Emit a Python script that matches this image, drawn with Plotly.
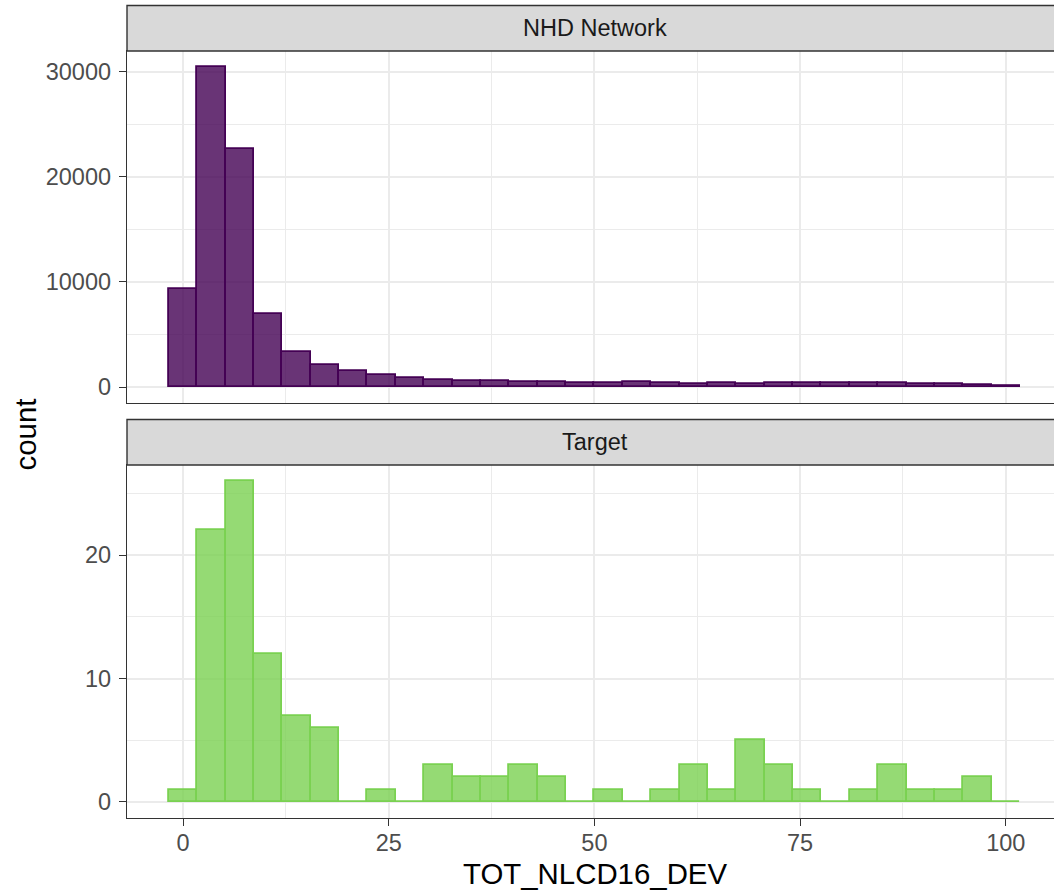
import plotly.graph_objects as go

# ---- data ----
bin_centers = [0, 3.45, 6.9, 10.34, 13.79, 17.24, 20.69, 24.14, 27.59, 31.03,
               34.48, 37.93, 41.38, 44.83, 48.28, 51.72, 55.17, 58.62, 62.07, 65.52,
               68.97, 72.41, 75.86, 79.31, 82.76, 86.21, 89.66, 93.1, 96.55, 100]
nhd_counts = [9300, 30450, 22650, 6950, 3350, 2080, 1500, 1150, 850, 700,
              600, 540, 500, 500, 420, 380, 480, 380, 290, 380,
              290, 370, 370, 370, 370, 370, 320, 300, 190, 100]
target_counts = [1, 22, 26, 12, 7, 6, 0, 1, 0, 3,
                 2, 2, 3, 2, 0, 1, 0, 1, 3, 1,
                 5, 3, 1, 0, 1, 3, 1, 1, 2, 0]
panel_labels = ["NHD Network", "Target"]
x_ticks = [0, 25, 50, 75, 100]
y_ticks_top = [0, 10000, 20000, 30000]
y_ticks_bottom = [0, 10, 20]
x_title = "TOT_NLCD16_DEV"
y_title = "count"

# ---- styling ----
W, H = 1054, 891
BINW = 3.448
FONT = "Liberation Sans, Arial, sans-serif"
TICK_FONT = dict(family=FONT, size=23.5, color="#4D4D4D")
GRID = "#EBEBEB"
BORDER = "#333333"

left_px = 127
full_right_px = 1062          # panel continues past the picture's right edge
panels_px = [(51, 403), (465, 818)]   # (top, bottom) of plot areas
strips_px = [(5.5, 51), (419.5, 465)]


def px_x(p):
    return p / W


def px_y(p):
    return 1 - p / H


fig = go.Figure()

fig.add_trace(go.Bar(
    x=bin_centers, y=nhd_counts, width=BINW,
    marker=dict(color="rgba(68,1,84,0.8)", line=dict(color="#440154", width=1.8)),
    xaxis="x", yaxis="y", showlegend=False,
))
fig.add_trace(go.Bar(
    x=bin_centers, y=target_counts, width=BINW,
    marker=dict(color="rgba(122,209,81,0.8)", line=dict(color="#7AD151", width=1.8)),
    xaxis="x2", yaxis="y2", showlegend=False,
))

# ggplot-like expansion; visible part ends at the picture edge
xmin_full, xmax_full = -6.81, 106.83
xmax_visible = xmin_full + (xmax_full - xmin_full) * (W - left_px) / (full_right_px - left_px)
xrange = [xmin_full, xmax_visible]
top_max = max(nhd_counts)
bot_max = max(target_counts)

common_x = dict(
    range=xrange, showgrid=True, gridcolor=GRID, gridwidth=1.8, zeroline=False,
    tickvals=x_ticks, ticktext=[str(v) for v in x_ticks],
    minor=dict(tickvals=[12.5, 37.5, 62.5, 87.5], showgrid=True, gridcolor=GRID, gridwidth=0.9, ticks=""),
    showline=True, mirror=True, linecolor=BORDER, linewidth=1.4,
    domain=[px_x(left_px), 1.0],
)
common_y = dict(
    showgrid=True, gridcolor=GRID, gridwidth=1.8, zeroline=False,
    showline=True, mirror=False, linecolor=BORDER, linewidth=1.4,
    ticks="outside", ticklen=7, tickwidth=1.4, tickcolor=BORDER,
    tickfont=TICK_FONT, ticklabelstandoff=3,
)

fig.update_layout(
    width=W, height=H,
    margin=dict(l=0, r=0, t=0, b=0),
    paper_bgcolor="white", plot_bgcolor="white",
    bargap=0,
    xaxis=dict(**common_x, anchor="y", showticklabels=False, ticks=""),
    yaxis=dict(**common_y, anchor="x",
               range=[-0.05 * top_max, 1.05 * top_max],
               tickvals=y_ticks_top, ticktext=[str(v) for v in y_ticks_top],
               minor=dict(tickvals=[5000, 15000, 25000], showgrid=True, gridcolor=GRID, gridwidth=0.9, ticks=""),
               domain=[px_y(panels_px[0][1]), px_y(panels_px[0][0])]),
    xaxis2=dict(**common_x, anchor="y2", ticks="outside", ticklen=7, tickwidth=1.4,
                tickcolor=BORDER, tickfont=TICK_FONT, ticklabelstandoff=-3),
    yaxis2=dict(**common_y, anchor="x2",
                range=[-0.05 * bot_max, 1.05 * bot_max],
                tickvals=y_ticks_bottom, ticktext=[str(v) for v in y_ticks_bottom],
                minor=dict(tickvals=[5, 15, 25], showgrid=True, gridcolor=GRID, gridwidth=0.9, ticks=""),
                domain=[px_y(panels_px[1][1]), px_y(panels_px[1][0])]),
)

shapes = []
annotations = []
for (top, bot), label in zip(strips_px, panel_labels):
    shapes.append(dict(type="rect", xref="paper", yref="paper",
                       x0=px_x(left_px), x1=px_x(full_right_px), y0=px_y(bot), y1=px_y(top),
                       fillcolor="#D9D9D9", line=dict(color=BORDER, width=1.4), layer="above"))
    annotations.append(dict(text=label, xref="paper", yref="paper",
                            x=px_x((left_px + full_right_px) / 2), y=px_y((top + bot) / 2),
                            xanchor="center", yanchor="middle", showarrow=False,
                            font=dict(family=FONT, size=23.5, color="#1A1A1A")))

annotations.append(dict(text=x_title, xref="paper", yref="paper",
                        x=px_x((left_px + full_right_px) / 2), y=px_y(873),
                        xanchor="center", yanchor="middle", showarrow=False,
                        font=dict(family=FONT, size=29.4, color="black")))
annotations.append(dict(text=y_title, xref="paper", yref="paper",
                        x=px_x(25), y=px_y(434.5), textangle=-90,
                        xanchor="center", yanchor="middle", showarrow=False,
                        font=dict(family=FONT, size=29.4, color="black")))

fig.update_layout(shapes=shapes, annotations=annotations)

fig.write_html("out.html")
